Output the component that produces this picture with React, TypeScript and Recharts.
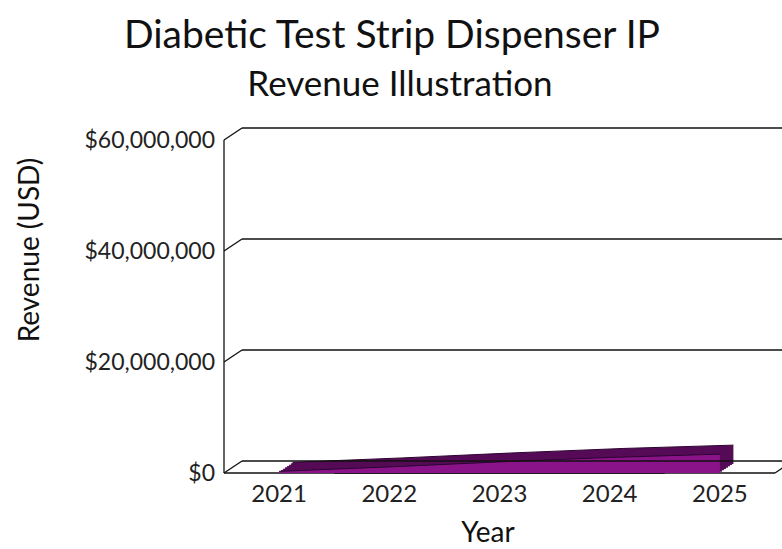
import React from "react";
import { ComposedChart, Area, XAxis, YAxis, ReferenceLine } from "recharts";

const years = ["2021", "2022", "2023", "2024", "2025"];
const revenue = [300000, 1100000, 2000000, 2800000, 3400000];
const yTicks = [0, 20000000, 40000000, 60000000];

const data = years.map((year, i) => ({ year, revenue: revenue[i] }));

// fake 3d box: the back wall sits DEPTH_X right and DEPTH_Y up from the front
const DEPTH_X = 18;
const DEPTH_Y = 12;
// extra axis pairs used to extrude the area (back to front), front face drawn on the "f" axes
const areaLayers = [13.5, 12, 10, 8, 6, 4, 2];

const FRAME = "#111";
const TOP_FILL = "#560b57";
const FRONT_FILL = "#8a138a";
const EDGE = "#2c0430";
const FONT = "Lato, sans-serif";
const Y_TICK_GAP = 9;

const fmtMoney = (v: number) => "$" + v.toLocaleString("en-US");

const padX = (o: number) => ({ left: o, right: DEPTH_X - o });
const padY = (o: number) => {
    const d = (o * DEPTH_Y) / DEPTH_X;
    return { top: DEPTH_Y - d, bottom: d };
};

// y tick: label + diagonal to the back wall + gridline on the back wall
const renderYTick = (props: any) => {
    const { x, y, payload } = props;
    const ax = x + Y_TICK_GAP;
    return (
        <g>
            <line x1={ax} y1={y} x2={ax + DEPTH_X} y2={y - DEPTH_Y} stroke={FRAME} strokeWidth={1.3} />
            <line x1={ax + DEPTH_X} y1={y - DEPTH_Y} x2={ax + 1200} y2={y - DEPTH_Y} stroke={FRAME} strokeWidth={1.3} />
            <text x={x} y={y} dy="0.36em" textAnchor="end" fill="#222" fontSize={23} fontFamily={FONT}>
                {fmtMoney(payload.value)}
            </text>
        </g>
    );
};

const plainLine = (p: any) => (
    <line x1={p.x1} y1={p.y1} x2={p.x2} y2={p.y2} stroke={FRAME} strokeWidth={1.3} />
);

// front floor edge, with the diagonal going back at its right end
const floorLine = (p: any) => (
    <g>
        <line x1={p.x1} y1={p.y1} x2={p.x2} y2={p.y2} stroke={FRAME} strokeWidth={1.3} />
        <line x1={p.x2} y1={p.y2} x2={p.x2 + DEPTH_X} y2={p.y2 - DEPTH_Y} stroke={FRAME} strokeWidth={1.3} />
    </g>
);

const first = years[0];
const last = years[years.length - 1];
const top = yTicks[yTicks.length - 1];

export default function App() {
    return (
        <div style={{ position: "relative", width: 782, height: 549, overflow: "hidden", background: "#fff" }}>
            <style>{`body{margin:0}`}</style>
            <ComposedChart width={800} height={549} data={data} margin={{ top: 128, right: 7, left: 0, bottom: 0 }}>
                <XAxis
                    xAxisId="f"
                    dataKey="year"
                    scale="band"
                    height={76}
                    padding={padX(0)}
                    axisLine={false}
                    tickLine={false}
                    tickSize={0}
                    tickMargin={12}
                    tick={{ fill: "#222", fontSize: 24, fontFamily: FONT }}
                />
                <YAxis
                    yAxisId="f"
                    width={224}
                    domain={[0, top]}
                    ticks={yTicks}
                    interval={0}
                    padding={padY(0)}
                    axisLine={false}
                    tickLine={false}
                    tickSize={0}
                    tickMargin={Y_TICK_GAP}
                    tick={renderYTick}
                />
                {areaLayers.map((o) => (
                    <XAxis key={"x" + o} xAxisId={"l" + o} dataKey="year" scale="band" hide padding={padX(o)} />
                ))}
                {areaLayers.map((o) => (
                    <YAxis key={"y" + o} yAxisId={"l" + o} hide domain={[0, top]} ticks={yTicks} padding={padY(o)} />
                ))}
                <XAxis xAxisId="zb" dataKey="year" scale="band" hide padding={padX(DEPTH_X)} />
                <YAxis yAxisId="zb" hide domain={[0, top]} ticks={yTicks} padding={padY(DEPTH_X)} />

                {/* box edges */}
                <ReferenceLine xAxisId="zb" yAxisId="zb" ifOverflow="visible" position="start"
                    segment={[{ x: first, y: 0 }, { x: first, y: top }]} shape={plainLine} />
                <ReferenceLine xAxisId="f" yAxisId="f" ifOverflow="visible" position="start"
                    segment={[{ x: first, y: 0 }, { x: first, y: top }]} shape={plainLine} />
                <ReferenceLine xAxisId="f" yAxisId="f" ifOverflow="visible" position="start"
                    segment={[{ x: first, y: 0 }, { x: last, y: 0 }]} shape={plainLine} />
                <ReferenceLine xAxisId="f" yAxisId="f" ifOverflow="visible" position="end"
                    segment={[{ x: first, y: 0 }, { x: last, y: 0 }]} shape={floorLine} />

                {/* extruded area, back to front */}
                {areaLayers.map((o, i) => (
                    <Area
                        key={"a" + o}
                        xAxisId={"l" + o}
                        yAxisId={"l" + o}
                        type="linear"
                        dataKey="revenue"
                        fill={TOP_FILL}
                        fillOpacity={1}
                        stroke={i === 0 ? EDGE : "none"}
                        strokeWidth={1}
                        dot={false}
                        activeDot={false}
                        zIndex={700}
                        isAnimationActive={false}
                    />
                ))}
                <Area
                    xAxisId="f"
                    yAxisId="f"
                    type="linear"
                    dataKey="revenue"
                    fill={FRONT_FILL}
                    fillOpacity={1}
                    stroke={EDGE}
                    strokeWidth={1}
                    dot={false}
                    activeDot={false}
                    zIndex={710}
                    isAnimationActive={false}
                />
            </ComposedChart>
            <svg width={782} height={549} style={{ position: "absolute", left: 0, top: 0, pointerEvents: "none" }}>
                <g fontFamily={FONT} fill="#111">
                    <text x={392} y={48} textAnchor="middle" fontSize={39}>Diabetic Test Strip Dispenser IP</text>
                    <text x={400} y={96} textAnchor="middle" fontSize={35}>Revenue Illustration</text>
                    <text x={39} y={250} textAnchor="middle" fontSize={28} transform="rotate(-90 39 250)">Revenue (USD)</text>
                    <text x={488} y={542} textAnchor="middle" fontSize={28}>Year</text>
                </g>
            </svg>
        </div>
    );
}
